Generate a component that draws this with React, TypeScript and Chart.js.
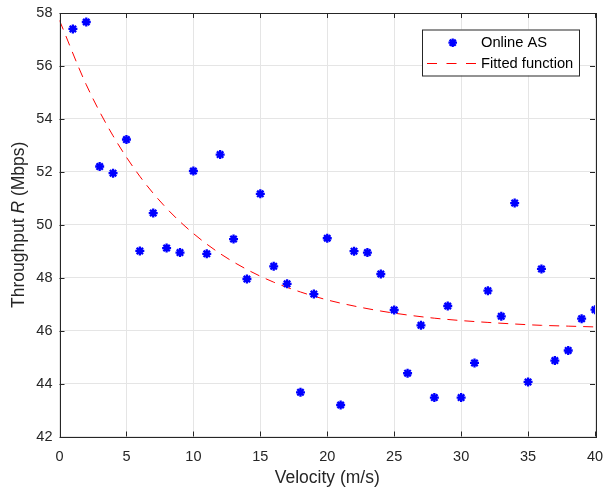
import React, { useEffect, useRef } from "react";
import { Chart, registerables } from "chart.js";

Chart.register(...registerables);

const velocities = [1, 2, 3, 4, 5, 6, 7, 8, 9, 10, 11, 12, 13, 14, 15, 16, 17, 18, 19, 20, 21, 22, 23, 24, 25, 26, 27, 28, 29, 30, 31, 32, 33, 34, 35, 36, 37, 38, 39, 40];
const throughput = [57.40, 57.66, 52.20, 51.95, 53.22, 49.01, 50.44, 49.12, 48.95, 52.03, 48.90, 52.65, 49.46, 47.95, 51.17, 48.43, 47.77, 43.67, 47.38, 49.49, 43.19, 49.00, 48.95, 48.14, 46.78, 44.39, 46.20, 43.47, 46.93, 43.47, 44.78, 47.51, 46.54, 50.82, 44.06, 48.33, 44.87, 45.25, 46.45, 46.79];
const fitX = [0, 2, 4, 6, 8, 10, 12, 14, 16, 18, 20, 22, 24, 26, 28, 30, 32, 34, 36, 38, 40];
const fitY = [57.72, 55.29, 53.36, 51.83, 50.62, 49.67, 48.91, 48.31, 47.83, 47.46, 47.16, 46.93, 46.74, 46.59, 46.47, 46.38, 46.31, 46.25, 46.20, 46.17, 46.14];
const seriesNames = ["Online AS", "Fitted function"];
const xTitle = "Velocity (m/s)";

const FONT = "'Liberation Sans', Arial, Helvetica, sans-serif";
const AXIS = "#262626";

const decorPlugin = {
  id: "decor",
  afterDraw(chart: any) {
    const { ctx, chartArea: a, scales } = chart;
    ctx.save();
    ctx.strokeStyle = AXIS;
    ctx.lineWidth = 1;
    ctx.strokeRect(Math.round(a.left) + 0.5, Math.round(a.top) + 0.5, Math.round(a.right - a.left), Math.round(a.bottom - a.top));
    const tl = 5;
    ctx.beginPath();
    for (const t of scales.x.ticks) {
      const px = Math.round(scales.x.getPixelForValue(t.value)) + 0.5;
      ctx.moveTo(px, a.bottom); ctx.lineTo(px, a.bottom - tl);
      ctx.moveTo(px, a.top); ctx.lineTo(px, a.top + tl);
    }
    for (const t of scales.y.ticks) {
      const py = Math.round(scales.y.getPixelForValue(t.value)) + 0.5;
      ctx.moveTo(a.left, py); ctx.lineTo(a.left + tl, py);
      ctx.moveTo(a.right, py); ctx.lineTo(a.right - tl, py);
    }
    ctx.stroke();

    ctx.fillStyle = AXIS;
    ctx.font = `17.5px ${FONT}`;
    ctx.textAlign = "center";
    ctx.textBaseline = "middle";
    ctx.fillText(xTitle, (a.left + a.right) / 2, 478);

    const parts = [
      { t: "Throughput ", f: `17.5px ${FONT}` },
      { t: "R", f: `italic 17.5px ${FONT}` },
      { t: " (Mbps)", f: `17.5px ${FONT}` },
    ];
    let total = 0;
    const widths = parts.map((p) => { ctx.font = p.f; const w = ctx.measureText(p.t).width; total += w; return w; });
    ctx.translate(19, (a.top + a.bottom) / 2);
    ctx.rotate(-Math.PI / 2);
    ctx.textAlign = "left";
    let x = -total / 2;
    parts.forEach((p, i) => { ctx.font = p.f; ctx.fillText(p.t, x, 0); x += widths[i]; });
    ctx.setTransform(1, 0, 0, 1, 0, 0);

    const lx = 422, ly = 29.5, lw = 157, lh = 46;
    ctx.fillStyle = "#ffffff";
    ctx.fillRect(lx, ly, lw, lh);
    ctx.strokeStyle = AXIS;
    ctx.lineWidth = 1;
    ctx.strokeRect(lx + 0.5, ly + 0.5, lw, lh);
    const mx = 452.7, my = 42.7;
    ctx.strokeStyle = "#0000ff";
    ctx.lineWidth = 2.3;
    ctx.beginPath();
    const r = 4.3;
    for (let k = 0; k < 4; k++) {
      const ang = (k * Math.PI) / 4;
      ctx.moveTo(mx - r * Math.cos(ang), my - r * Math.sin(ang));
      ctx.lineTo(mx + r * Math.cos(ang), my + r * Math.sin(ang));
    }
    ctx.stroke();
    ctx.strokeStyle = "#ff0000";
    ctx.lineWidth = 1;
    ctx.setLineDash([10, 9.5]);
    ctx.beginPath();
    ctx.moveTo(427, 63.5); ctx.lineTo(477, 63.5);
    ctx.stroke();
    ctx.setLineDash([]);
    ctx.fillStyle = "#000000";
    ctx.font = `14.7px ${FONT}`;
    ctx.textAlign = "left";
    ctx.textBaseline = "middle";
    ctx.fillText(seriesNames[0], 481, 43);
    ctx.fillText(seriesNames[1], 481, 63.5);
    ctx.restore();
  },
};

export default function App() {
  const ref = useRef<HTMLCanvasElement>(null);
  useEffect(() => {
    document.body.style.margin = "0";
    const chart = new Chart(ref.current!, {
      type: "scatter",
      data: {
        datasets: [
          {
            label: seriesNames[0],
            data: velocities.map((v, i) => ({ x: v, y: throughput[i] })),
            pointStyle: "star",
            pointRadius: 4.5,
            pointBorderWidth: 2.3,
            borderColor: "#0000ff",
            backgroundColor: "#0000ff",
            showLine: false,
            order: 1,
          },
          {
            label: seriesNames[1],
            data: fitX.map((v, i) => ({ x: v, y: fitY[i] })),
            showLine: true,
            pointRadius: 0,
            borderColor: "#ff0000",
            borderWidth: 1,
            borderDash: [10, 7],
            cubicInterpolationMode: "monotone",
            order: 2,
          },
        ],
      },
      options: {
        responsive: false,
        animation: false,
        layout: { padding: { left: 0, right: 10, top: 13, bottom: 0 } },
        plugins: { legend: { display: false }, tooltip: { enabled: false } },
        scales: {
          x: {
            type: "linear",
            min: 0,
            max: 40,
            ticks: { stepSize: 5, color: AXIS, font: { family: FONT, size: 14.5 }, padding: 12, maxRotation: 0 },
            grid: { color: "#e5e5e5", drawTicks: false },
            border: { display: false },
            afterFit: (s: any) => { s.height = 52.5; s.paddingLeft = 0; s.paddingRight = 0; },
          },
          y: {
            type: "linear",
            min: 42,
            max: 58,
            ticks: { stepSize: 2, color: AXIS, font: { family: FONT, size: 14.5 }, padding: 7 },
            grid: { color: "#e5e5e5", drawTicks: false },
            border: { display: false },
            afterFit: (s: any) => { s.width = 59.5; s.paddingTop = 0; s.paddingBottom = 0; },
          },
        },
      },
      plugins: [decorPlugin],
    } as any);
    return () => chart.destroy();
  }, []);
  return (
    <div style={{ position: "absolute", left: 0, top: 0, width: 605, height: 489, background: "#fff" }}>
      <canvas ref={ref} width={605} height={489} />
    </div>
  );
}
